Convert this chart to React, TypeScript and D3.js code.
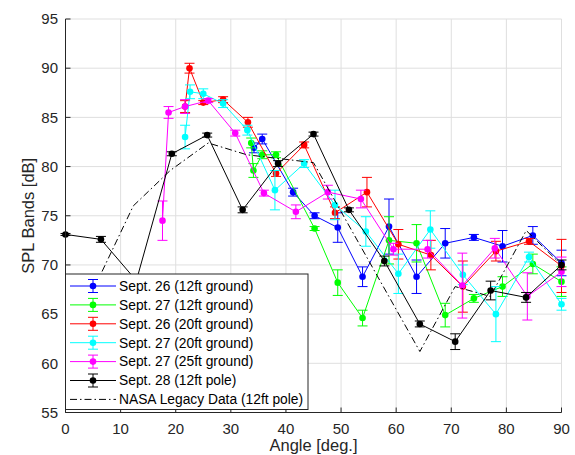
import React from "react";
import * as d3 from "d3";

const blueX = [34.2, 35.7, 41.3, 45.2, 49.4, 53.9, 58.7, 63.7, 68.9, 74.1, 79.3, 84.8, 90];
const blueY = [81.9, 82.8, 77.4, 75.0, 73.8, 68.8, 73.9, 68.8, 72.2, 72.8, 71.9, 73.0, 70.2];
const blueE = [0.5, 0.5, 0.4, 0.3, 1.5, 1.0, 2.8, 1.7, 1.5, 0.3, 1.6, 0.9, 1.3];

const greenX = [33.7, 34.1, 35.7, 38.2, 45.2, 49.4, 53.9, 58.7, 63.7, 68.9, 74.1, 79.3, 84.8, 90];
const greenY = [82.4, 79.6, 81.2, 81.2, 73.7, 68.2, 64.6, 72.5, 72.2, 64.9, 66.6, 67.8, 70.1, 68.3];
const greenE = [0.5, 0.7, 0.4, 0.3, 0.2, 1.3, 0.8, 2.4, 1.9, 1.2, 0.4, 1.0, 1.0, 1.5];

const redX = [21.7, 22.5, 25.0, 28.6, 33.1, 38.2, 43.3, 48.9, 54.7, 60.4, 66.3, 72.1, 78.1, 84.1, 90];
const redY = [86.1, 90.0, 86.5, 86.8, 84.5, 79.3, 82.2, 75.3, 77.4, 72.1, 71.0, 67.8, 71.4, 72.4, 69.9];
const redE = [0.6, 0.5, 0.2, 0.3, 0.5, 0.3, 0.3, 0.6, 1.5, 1.5, 1.5, 2.6, 1.0, 0.3, 2.7];

const cyanX = [21.7, 22.6, 25.0, 28.6, 33.0, 38.0, 43.3, 48.9, 54.5, 60.4, 66.2, 72.1, 78.1, 84.1, 90];
const cyanY = [83.0, 87.6, 87.4, 86.4, 83.7, 77.6, 80.3, 76.1, 73.4, 69.1, 73.6, 69.0, 65.0, 70.8, 66.0];
const cyanE = [1.2, 0.7, 0.5, 0.4, 0.5, 2.0, 0.4, 1.5, 1.5, 2.0, 1.9, 1.0, 2.8, 0.5, 0.6];

const magX = [17.6, 18.7, 21.7, 25.9, 30.8, 36.0, 41.8, 47.6, 53.6, 59.5, 65.7, 72.0, 77.9, 83.8, 90];
const magY = [74.5, 85.5, 86.1, 86.7, 83.4, 77.3, 75.4, 77.4, 76.7, 71.6, 71.6, 67.9, 71.7, 66.8, 69.3];
const magE = [2.0, 0.6, 0.7, 0.2, 0.3, 0.3, 0.7, 0.7, 0.9, 0.6, 0.9, 3.3, 1.0, 2.4, 1.5];

const blackX = [0, 6.43, 12.86, 19.29, 25.71, 32.14, 38.57, 45, 51.43, 57.86, 64.29, 70.71, 77.14, 83.57, 90];
const blackY = [73.1, 72.6, 68.4, 81.3, 83.2, 75.6, 80.3, 83.3, 75.6, 70.4, 64.0, 62.2, 67.4, 66.7, 70.0];
const blackE = [0.1, 0.3, 0.3, 0.2, 0.2, 0.3, 0.3, 0.2, 0.2, 0.5, 0.3, 0.8, 0.95, 0.5, 0.5];

const nasaX = [5.5, 12.3, 19.0, 25.9, 32.9, 45.0, 64.3, 70.7, 77.1, 83.6, 90];
const nasaY = [68.0, 76.0, 79.6, 82.4, 81.2, 80.4, 61.2, 67.8, 66.8, 73.5, 70.0];

const xTicks = [0, 10, 20, 30, 40, 50, 60, 70, 80, 90];
const yTicks = [55, 60, 65, 70, 75, 80, 85, 90, 95];

const seriesNames = [
  "Sept. 26 (12ft ground)",
  "Sept. 27 (12ft ground)",
  "Sept. 26 (20ft ground)",
  "Sept. 27 (20ft ground)",
  "Sept. 27 (25ft ground)",
  "Sept. 28 (12ft pole)",
];
const nasaName = "NASA Legacy Data (12ft pole)";
const colors = ["#0000ff", "#00ff00", "#ff0000", "#00ffff", "#ff00ff", "#000000"];

const series = [
  { x: blueX, y: blueY, e: blueE },
  { x: greenX, y: greenY, e: greenE },
  { x: redX, y: redY, e: redE },
  { x: cyanX, y: cyanY, e: cyanE },
  { x: magX, y: magY, e: magE },
  { x: blackX, y: blackY, e: blackE },
];

const FONT = "'Liberation Sans', Arial, Helvetica, sans-serif";
const AX = "#262626";

export default function App() {
  const W = 575, H = 455;
  const x = d3.scaleLinear().domain([0, 90]).range([65.5, 561.5]);
  const y = d3.scaleLinear().domain([55, 95]).range([412.5, 19]);
  const line = d3.line<[number, number]>().x((d) => x(d[0])).y((d) => y(d[1]));
  const cap = 5;

  const legX = 65.5, legY = 274, legW = 242.5, legH = 135.5;
  const rowY = (i: number) => 286 + i * 18.9;

  return (
    <svg width={W} height={H} style={{ position: "absolute", left: 0, top: 0, background: "#fff" }} fontFamily={FONT}>
      <rect x={0} y={0} width={W} height={H} fill="#fff" />
      {/* grid */}
      {xTicks.map((t) => (
        <line key={"gx" + t} x1={x(t)} x2={x(t)} y1={y(55)} y2={y(95)} stroke="#dfdfdf" strokeWidth={1} />
      ))}
      {yTicks.map((t) => (
        <line key={"gy" + t} x1={x(0)} x2={x(90)} y1={y(t)} y2={y(t)} stroke="#dfdfdf" strokeWidth={1} />
      ))}
      {/* series */}
      {series.map((s, si) => {
        const pts = s.x.map((v, i) => [v, s.y[i]] as [number, number]);
        return (
          <g key={"s" + si} stroke={colors[si]} fill={colors[si]}>
            <path d={line(pts) || ""} fill="none" strokeWidth={1} />
            {pts.map((p, i) => {
              const px = x(p[0]);
              const y1 = y(p[1] - s.e[i]);
              const y2 = y(p[1] + s.e[i]);
              return (
                <g key={i}>
                  <line x1={px} x2={px} y1={y1} y2={y2} strokeWidth={1} />
                  <line x1={px - cap} x2={px + cap} y1={y1} y2={y1} strokeWidth={1} />
                  <line x1={px - cap} x2={px + cap} y1={y2} y2={y2} strokeWidth={1} />
                  <circle cx={px} cy={y(p[1])} r={3.3} stroke="none" />
                </g>
              );
            })}
          </g>
        );
      })}
      <path
        d={line(nasaX.map((v, i) => [v, nasaY[i]] as [number, number])) || ""}
        fill="none"
        stroke="#000"
        strokeWidth={1}
        strokeDasharray="7,3,1.5,3"
      />
      {/* axes */}
      <line x1={x(0)} x2={x(90)} y1={y(55)} y2={y(55)} stroke={AX} strokeWidth={1} />
      <line x1={x(0)} x2={x(0)} y1={y(55)} y2={y(95)} stroke={AX} strokeWidth={1} />
      {xTicks.map((t) => (
        <g key={"xt" + t}>
          <line x1={x(t)} x2={x(t)} y1={y(55)} y2={y(55) - 5} stroke={AX} />
          <text x={x(t)} y={433.5} textAnchor="middle" fontSize={15} fill={AX}>
            {t}
          </text>
        </g>
      ))}
      {yTicks.map((t) => (
        <g key={"yt" + t}>
          <line x1={x(0)} x2={x(0) + 5} y1={y(t)} y2={y(t)} stroke={AX} />
          <text x={58} y={y(t) + 5.3} textAnchor="end" fontSize={15} fill={AX}>
            {t}
          </text>
        </g>
      ))}
      <text x={313.5} y={450.5} textAnchor="middle" fontSize={16.5} fill={AX}>
        Angle [deg.]
      </text>
      <text transform={`translate(34,215.75) rotate(-90)`} textAnchor="middle" fontSize={16.5} fill={AX}>
        SPL Bands [dB]
      </text>
      {/* legend */}
      <rect x={legX} y={legY} width={legW} height={legH} fill="#fff" stroke={AX} strokeWidth={1} />
      {seriesNames.map((n, i) => {
        const ry = rowY(i);
        return (
          <g key={"lg" + i}>
            <g stroke={colors[i]} fill={colors[i]}>
              <line x1={70} x2={116} y1={ry} y2={ry} strokeWidth={1} />
              <line x1={93} x2={93} y1={ry - 6.5} y2={ry + 6.5} strokeWidth={1} />
              <line x1={88} x2={98} y1={ry - 6.5} y2={ry - 6.5} strokeWidth={1} />
              <line x1={88} x2={98} y1={ry + 6.5} y2={ry + 6.5} strokeWidth={1} />
              <circle cx={93} cy={ry} r={3.3} stroke="none" />
            </g>
            <text x={119} y={ry + 4.8} fontSize={13.8} fill="#000">
              {n}
            </text>
          </g>
        );
      })}
      <line x1={70} x2={116} y1={rowY(6)} y2={rowY(6)} stroke="#000" strokeWidth={1} strokeDasharray="7,3,1.5,3" />
      <text x={119} y={rowY(6) + 4.8} fontSize={13.8} fill="#000">
        {nasaName}
      </text>
    </svg>
  );
}
